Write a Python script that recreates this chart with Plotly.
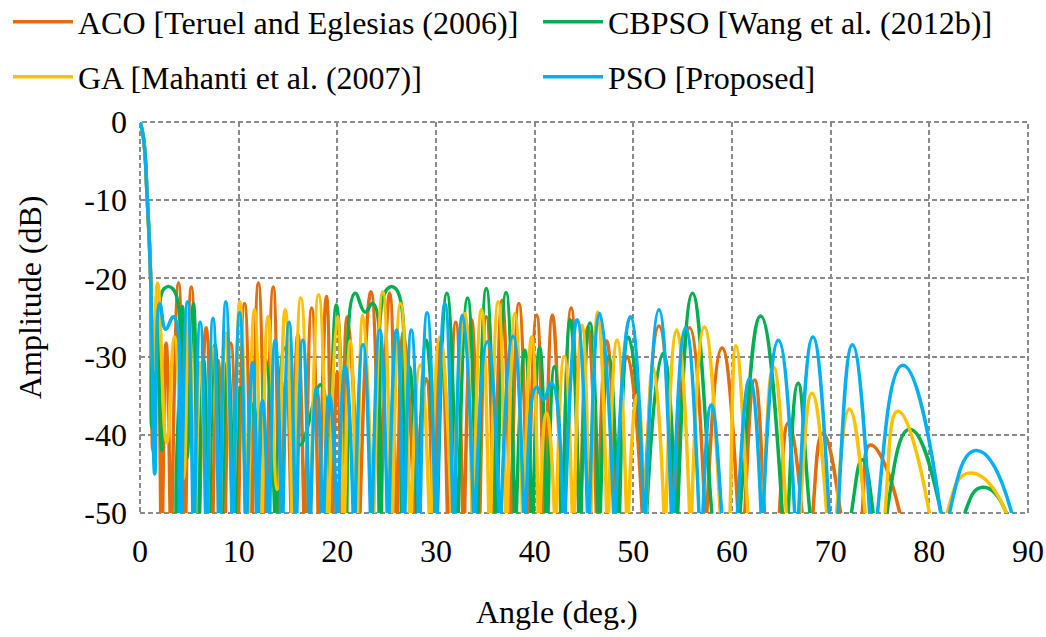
import plotly.graph_objects as go

# ---- data: (angle in degrees, amplitude in dB) ----
# each lobe: where it leaves the -50 dB floor, its peak, where it returns to the floor;
# the null between two lobes lies below the floor (clipped); visible dips are given directly.
aco_points = [
    (0, 0), (0.35, -2), (0.74, -10), (1.08, -20), (1.3, -42), (1.75, -23),
    (2.1, -50), (2.2, -75), (2.3, -50), (2.65, -28.3), (3.05, -50), (3.15, -75), (3.25, -50),
    (3.9, -20.6), (4.45, -50), (4.55, -75), (4.65, -50), (5.2, -21.1), (5.85, -50), (5.95, -75),
    (6.05, -50), (6.7, -26.3), (7.2, -50), (7.3, -75), (7.4, -50), (7.9, -30.5), (8.45, -50),
    (8.55, -75), (8.65, -50), (9.2, -28.3), (9.8, -50), (9.9, -75), (10.0, -50), (10.6, -23.2),
    (11.2, -50), (11.3, -75), (11.4, -50), (12.0, -20.6), (12.65, -50), (12.75, -75),
    (12.85, -50), (13.5, -21.1), (14.05, -50), (14.15, -75), (14.25, -50), (14.8, -33),
    (15.3, -50), (15.4, -75), (15.5, -50), (16.0, -27.2), (16.6, -50), (16.7, -75), (16.8, -50),
    (17.4, -23.8), (18.05, -50), (18.15, -75), (18.25, -50), (18.9, -22.3), (19.35, -50),
    (19.45, -75), (19.55, -50), (20.0, -32), (20.4, -50), (20.5, -75), (20.6, -50),
    (21.0, -24.9), (22.1, -50), (22.2, -75), (22.3, -50), (23.4, -21.7), (24.25, -50),
    (24.35, -75), (24.45, -50), (25.3, -21.9), (25.9, -50), (26.0, -75), (26.1, -50),
    (26.7, -26.8), (27.75, -50), (27.85, -75), (27.95, -50), (29.0, -32.8), (29.65, -50),
    (29.75, -75), (29.85, -50), (30.5, -27.9), (31.15, -50), (31.25, -75), (31.35, -50),
    (32.0, -25.6), (32.7, -50), (32.8, -75), (32.9, -50), (33.6, -25.3), (34.25, -50),
    (34.35, -75), (34.45, -50), (35.1, -24.9), (35.8, -50), (35.9, -75), (36.0, -50),
    (36.7, -22.8), (37.45, -50), (37.55, -75), (37.65, -50), (38.4, -23.2), (39.2, -50),
    (39.3, -75), (39.4, -50), (40.2, -24.7), (40.9, -50), (41.0, -75), (41.1, -50),
    (41.8, -24.7), (42.65, -50), (42.75, -75), (42.85, -50), (43.7, -23.8), (44.45, -50),
    (44.55, -75), (44.65, -50), (45.4, -26.2), (46.25, -50), (46.35, -75), (46.45, -50),
    (47.3, -28), (48.25, -50), (48.35, -75), (48.45, -50), (49.4, -30), (50.9, -50),
    (51.0, -75), (51.1, -50), (52.6, -26.1), (54.05, -50), (54.15, -75), (54.25, -50),
    (55.7, -26.3), (57.25, -50), (57.35, -75), (57.45, -50), (59.0, -28.9),
    (60.6, -50), (60.95, -75), (61.3, -50), (62.3, -33), (63.3, -50), (64.05, -75),
    (64.8, -50), (65.7, -38.5), (67.1, -50), (67.65, -75), (68.2, -50), (69.2, -39.8),
    (71.0, -50), (72.1, -75), (73.2, -50), (74.0, -41.3), (77.0, -50), (77.5, -75),
]

cbpso_points = [
    (0, 0), (0.35, -2), (0.74, -10), (1.08, -20), (1.2, -39), (1.7, -27), (2.2, -42),
    (2.45, -21.3), (3.3, -21.3), (3.65, -50), (3.75, -75), (3.85, -50), (4.3, -23.6),
    (4.75, -43), (5.4, -23.2), (5.8, -50), (5.9, -75), (6.0, -50), (6.45, -30.5),
    (6.85, -50), (6.95, -75), (7.05, -50), (7.6, -28.5), (8.15, -50), (8.25, -75),
    (8.35, -50), (8.9, -30.5), (9.45, -50), (9.55, -75), (9.65, -50), (10.2, -34),
    (10.75, -50), (10.85, -75), (10.95, -50), (11.5, -36), (12.05, -50), (12.15, -75),
    (12.25, -50), (12.8, -30.4), (13.65, -50), (13.75, -75), (13.85, -50), (14.7, -28.9),
    (16.2, -41.3), (18.3, -33.6), (19.0, -50), (19.1, -75), (19.2, -50), (19.9, -23.4),
    (20.75, -50), (20.85, -75), (20.95, -50), (21.8, -21.9), (22.8, -24.3), (23.6, -23.2),
    (24.25, -50), (24.35, -75), (24.45, -50), (25.1, -21.3), (25.9, -21.3), (26.5, -50),
    (26.6, -75), (26.7, -50), (27.3, -31.3), (28.05, -50), (28.15, -75), (28.25, -50),
    (29.0, -27.9), (29.95, -50), (30.05, -75), (30.15, -50), (31.1, -21.9), (32.05, -50),
    (32.15, -75), (32.25, -50), (33.2, -22.5), (34.05, -50), (34.15, -75), (34.25, -50),
    (35.1, -21.3), (36.0, -50), (36.1, -75), (36.2, -50), (37.1, -21.8), (37.95, -50),
    (38.05, -75), (38.15, -50), (39.0, -29.2), (39.65, -50), (39.75, -75), (39.85, -50),
    (40.5, -28.8), (41.15, -50), (41.25, -75), (41.35, -50), (42.0, -31.3), (42.7, -50),
    (42.8, -75), (42.9, -50), (43.6, -25.3), (44.5, -50), (44.6, -75), (44.7, -50),
    (45.6, -25.7), (46.45, -50), (46.55, -75), (46.65, -50), (47.5, -30), (48.4, -50),
    (48.5, -75), (48.6, -50), (49.5, -27.5), (51.15, -50), (51.25, -75), (51.35, -50),
    (53.0, -29.6), (54.3, -50), (54.4, -75), (54.5, -50), (56.0, -21.9), (57.95, -50),
    (59.4, -75), (60.8, -50), (62.9, -24.8), (65.1, -50), (65.4, -75), (65.7, -50),
    (66.7, -33.4), (67.9, -50), (70.0, -75), (72.1, -50), (73.2, -43.2), (74.3, -50),
    (75.0, -75), (75.7, -50), (78.0, -39.3), (81.2, -50), (82.4, -75), (83.6, -50),
    (85.4, -46.7), (87.8, -50), (88.2, -75),
]

ga_points = [
    (0, 0), (0.35, -2), (0.74, -10), (1.08, -20), (1.35, -32), (1.78, -20.6), (2.7, -41),
    (3.5, -27.5), (4.4, -45.6), (4.9, -24.5), (5.45, -50), (5.55, -75), (5.65, -50),
    (6.1, -30.8), (6.65, -50), (6.75, -75), (6.85, -50), (7.4, -29), (7.95, -50),
    (8.05, -75), (8.15, -50), (8.7, -27), (9.4, -48), (10.1, -23), (10.8, -50), (10.9, -75),
    (11.0, -50), (11.6, -24), (12.2, -50), (12.3, -75), (12.4, -50), (13.0, -24.9),
    (13.9, -47), (14.7, -24), (15.4, -50), (15.5, -75), (15.6, -50), (16.3, -22.5),
    (17.1, -50), (17.2, -75), (17.3, -50), (18.1, -22.1), (18.95, -50), (19.05, -75),
    (19.15, -50), (20.0, -24.9), (20.55, -50), (20.65, -75), (20.75, -50), (21.3, -28),
    (21.85, -50), (21.95, -75), (22.05, -50), (22.6, -24.7), (23.5, -50), (23.6, -75),
    (23.7, -50), (24.6, -21.7), (25.4, -50), (25.5, -75), (25.6, -50), (26.4, -23.2),
    (27.3, -50), (27.4, -75), (27.5, -50), (28.4, -31.1), (29.3, -50), (29.4, -75),
    (29.5, -50), (30.4, -27.5), (31.55, -50), (31.65, -75), (31.75, -50), (32.9, -24.5),
    (33.65, -50), (33.75, -75), (33.85, -50), (34.6, -24), (35.35, -50), (35.45, -75),
    (35.55, -50), (36.3, -23), (37.05, -50), (37.15, -75), (37.25, -50), (38.0, -24.5),
    (38.75, -50), (38.85, -75), (38.95, -50), (39.7, -27.5), (40.35, -50), (40.45, -75),
    (40.55, -50), (41.2, -37.2), (42.0, -50), (42.1, -75), (42.2, -50), (43.0, -30),
    (43.8, -50), (43.9, -75), (44.0, -50), (44.8, -26), (45.5, -50), (45.6, -75),
    (45.7, -50), (46.4, -24.3), (47.3, -50), (47.4, -75), (47.5, -50), (48.35, -27.9),
    (49.3, -50), (49.4, -75), (49.5, -50), (50.4, -34.9), (51.1, -50), (51.2, -75),
    (51.3, -50), (52.0, -31.3), (53.1, -50), (53.2, -75), (53.3, -50), (54.4, -26.6),
    (55.7, -50), (55.8, -75), (55.9, -50), (57.2, -26.2), (58.8, -50), (59.3, -75),
    (59.8, -50), (60.4, -28.6), (61.6, -50), (62.35, -75), (63.1, -50), (64.2, -31.3),
    (65.5, -50), (66.2, -75), (66.9, -50), (68.1, -34.7), (69.6, -50), (70.1, -75),
    (70.6, -50), (71.9, -36.7), (73.5, -50), (74.5, -75), (75.5, -50), (76.8, -37.0),
    (80.0, -50), (80.9, -75), (81.8, -50), (84.0, -44.9), (87.8, -50), (88.2, -75),
]

pso_points = [
    (0, 0), (0.35, -2), (0.74, -10), (1.08, -20), (1.5, -45), (2.0, -23.2), (2.6, -26.5),
    (3.4, -24.9), (4.0, -50), (4.1, -75), (4.2, -50), (4.8, -23), (5.35, -50), (5.45, -75),
    (5.55, -50), (6.1, -25.6), (6.65, -50), (6.75, -75), (6.85, -50), (7.4, -25.1),
    (7.95, -50), (8.05, -75), (8.15, -50), (8.7, -23), (9.3, -50), (9.4, -75), (9.5, -50),
    (10.1, -24.4), (10.65, -50), (10.75, -75), (10.85, -50), (11.4, -30.8), (11.8, -50),
    (11.9, -75), (12.0, -50), (12.4, -35.6), (12.95, -50), (13.05, -75), (13.15, -50),
    (13.7, -27.9), (14.3, -50), (14.4, -75), (14.5, -50), (15.1, -25.6), (15.7, -50),
    (15.8, -75), (15.9, -50), (16.5, -27.9), (17.1, -50), (17.2, -75), (17.3, -50),
    (17.9, -34), (18.45, -50), (18.55, -75), (18.65, -50), (19.2, -34.9), (19.9, -50),
    (20.0, -75), (20.1, -50), (20.8, -31.3), (21.6, -50), (21.7, -75), (21.8, -50),
    (22.6, -28.5), (23.35, -50), (23.45, -75), (23.55, -50), (24.3, -26.6), (25.05, -50),
    (25.15, -75), (25.25, -50), (26.0, -26.6), (26.65, -50), (26.75, -75), (26.85, -50),
    (27.5, -26.6), (28.2, -50), (28.3, -75), (28.4, -50), (29.1, -24.4), (29.9, -50),
    (30.0, -75), (30.1, -50), (30.9, -23.2), (31.7, -50), (31.8, -75), (31.9, -50),
    (32.7, -24.7), (33.8, -50), (33.9, -75), (34.0, -50), (35.2, -28.1), (36.4, -50),
    (36.5, -75), (36.6, -50), (37.8, -27.4), (38.9, -50), (39.0, -75), (39.1, -50),
    (40.2, -33.9), (40.9, -35.5), (41.7, -33.4), (42.9, -50), (43.0, -75), (43.1, -50),
    (44.3, -25.3), (45.35, -50), (45.45, -75), (45.55, -50), (46.6, -24.5), (48.0, -50),
    (48.1, -75), (48.2, -50), (49.7, -24.9), (51.05, -50), (51.15, -75), (51.25, -50),
    (52.6, -24.0), (53.85, -50), (53.95, -75), (54.05, -50), (55.3, -26.3), (56.65, -50),
    (56.85, -75), (57.05, -50), (57.9, -36.2), (58.95, -50), (59.75, -75), (60.55, -50),
    (61.8, -32.8), (62.95, -50), (63.05, -75), (63.15, -50), (64.7, -27.9), (66.35, -50),
    (66.55, -75), (66.75, -50), (68.2, -27.5), (69.85, -50), (70.3, -75), (70.75, -50),
    (72.2, -28.5), (73.95, -50), (74.35, -75), (74.75, -50), (77.3, -31.1), (81.15, -50),
    (81.6, -75), (82.05, -50), (84.7, -42), (88.35, -50), (88.6, -75),
]

series_names = [
    "ACO [Teruel and Eglesias (2006)]",
    "CBPSO [Wang et al. (2012b)]",
    "GA [Mahanti et al. (2007)]",
    "PSO [Proposed]",
]
series_points = [aco_points, cbpso_points, ga_points, pso_points]
series_colors = ["#E46C0A", "#00B050", "#FFC000", "#00B0F0"]
series_legend = ["legend", "legend2", "legend3", "legend4"]

x_ticks = [0, 10, 20, 30, 40, 50, 60, 70, 80, 90]
x_tick_labels = ["0", "10", "20", "30", "40", "50", "60", "70", "80", "90"]
y_ticks = [0, -10, -20, -30, -40, -50]
y_tick_labels = ["0", "-10", "-20", "-30", "-40", "-50"]
x_title = "Angle (deg.)"
y_title = "Amplitude (dB)"

FONT = "Liberation Serif, Times New Roman, serif"
FS = 32
GRID_COLOR = "#8A8A8A"
GRID_DASH = "5px,3px"

fig = go.Figure()
for name, pts, color, lg in zip(series_names, series_points, series_colors, series_legend):
    fig.add_trace(go.Scatter(
        x=[p[0] for p in pts],
        y=[p[1] for p in pts],
        mode="lines",
        name=name,
        legend=lg,
        line=dict(color=color, width=3.5, shape="spline", smoothing=1.3),
    ))

grid = dict(showgrid=True, gridcolor=GRID_COLOR, griddash=GRID_DASH, gridwidth=2,
            zeroline=False, showline=False, ticks="",
            tickfont=dict(family=FONT, size=FS, color="black"))

def legend_box(x_px, y_px):
    return dict(xref="container", yref="container",
                x=x_px / 1046, xanchor="left", y=1 - y_px / 637, yanchor="middle",
                itemwidth=60, bgcolor="rgba(0,0,0,0)",
                font=dict(family=FONT, size=FS, color="black"))

fig.update_layout(
    width=1046, height=637,
    margin=dict(l=140, r=18, t=122, b=124, autoexpand=False),
    paper_bgcolor="white", plot_bgcolor="white",
    font=dict(family=FONT, size=FS, color="black"),
    xaxis=dict(range=[0, 90], tickvals=x_ticks, ticktext=x_tick_labels,
               ticklabelstandoff=16, **grid),
    yaxis=dict(range=[-50, 0], tickvals=y_ticks, ticktext=y_tick_labels,
               ticklabelstandoff=12, **grid),
    legend=legend_box(8, 22),
    legend2=legend_box(538, 22),
    legend3=legend_box(8, 77),
    legend4=legend_box(538, 77),
    showlegend=True,
    shapes=[dict(type="rect", xref="paper", yref="paper", x0=0, y0=0, x1=1, y1=1,
                 line=dict(color=GRID_COLOR, width=2, dash=GRID_DASH), layer="below")],
    annotations=[
        dict(text=x_title, xref="paper", yref="paper", x=(557 - 140) / 888,
             y=(513 - 612) / 391, xanchor="center", yanchor="middle", showarrow=False,
             font=dict(family=FONT, size=FS, color="black")),
        dict(text=y_title, xref="paper", yref="paper", x=(30 - 140) / 888,
             y=(513 - 297) / 391, xanchor="center", yanchor="middle", showarrow=False,
             textangle=-90, font=dict(family=FONT, size=FS, color="black")),
    ],
)

fig.write_html("out.html")
